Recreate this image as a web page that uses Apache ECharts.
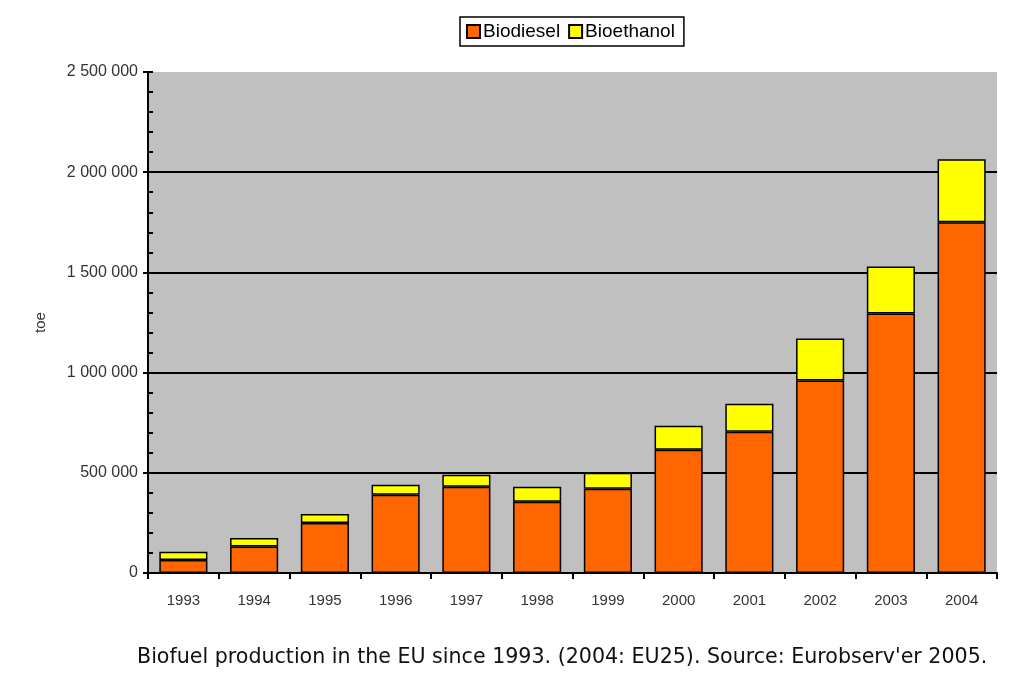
<!DOCTYPE html>
<html><head><meta charset="utf-8">
<script src="https://cdn.jsdelivr.net/npm/echarts@6/dist/echarts.min.js"></script>
<style>html,body{margin:0;padding:0;background:#fff}#c{width:1024px;height:686px}</style>
</head><body><div id="c"></div>
<script>
const years = ['1993','1994','1995','1996','1997','1998','1999','2000','2001','2002','2003','2004'];
const biodiesel = [65000,132000,250000,390000,430000,355000,420000,615000,705000,960000,1295000,1750000];
const bioethanol = [41000,43000,45000,50000,60000,75000,80000,120000,140000,210000,235000,315000];
const caption = "Biofuel production in the EU since 1993. (2004: EU25). Source: Eurobserv'er 2005.";

const chart = echarts.init(document.getElementById('c'));
const fmt = v => String(v).replace(/\B(?=(\d{3})+(?!\d))/g, ' ');
const axisFont = 'Liberation Sans, Arial, sans-serif';
chart.setOption({
  animation: false,
  textStyle: {fontFamily: axisFont},
  legend: {
    left: 460, top: 17, borderColor: '#000', borderWidth: 1.5, padding: [5, 9, 5, 6],
    itemWidth: 13, itemHeight: 13, itemGap: 8,
    textStyle: {fontSize: 19, color: '#000', padding: [0,0,0,-2]},
    data: [{name:'Biodiesel', icon:'rect'}, {name:'Bioethanol', icon:'rect'}]
  },
  grid: {left: 148, right: 27, top: 72, bottom: 113, show: true, backgroundColor: '#c0c0c0', borderWidth: 0},
  xAxis: {
    type: 'category', data: years, boundaryGap: true,
    axisLine: {lineStyle: {color: '#000', width: 2}},
    axisTick: {show: true, length: 6, interval: 0, lineStyle: {color: '#000', width: 2}},
    axisLabel: {color: '#333', fontSize: 15, margin: 20}
  },
  yAxis: [{
    type: 'value', min: 0, max: 2500000, interval: 500000,
    name: 'toe', nameLocation: 'middle', nameGap: 100, nameRotate: 90,
    nameTextStyle: {fontSize: 15, color: '#333'},
    axisLine: {show: true, lineStyle: {color: '#000', width: 2}},
    axisTick: {show: true, inside: true, length: 5, lineStyle: {color: '#000', width: 2}},
    minorTick: {show: true, splitNumber: 5, length: 5, lineStyle: {color: '#000', width: 2}},
    splitLine: {show: true, showMaxLine: false, lineStyle: {color: '#000', width: 2}},
    axisLabel: {color: '#333', fontSize: 16, margin: 10, formatter: fmt}
  }, {
    type: 'value', min: 0, max: 2500000, interval: 500000, position: 'left',
    axisLine: {show: false}, axisLabel: {show: false}, splitLine: {show: false},
    axisTick: {show: true, length: 5, lineStyle: {color: '#000', width: 2}}
  }],
  series: [
    {name: 'Biodiesel', type: 'bar', stack: 't', data: biodiesel, barWidth: '68%',
     itemStyle: {color: '#ff6600', borderColor: '#000', borderWidth: 1.5}},
    {name: 'Bioethanol', type: 'bar', stack: 't', data: bioethanol, barWidth: '68%',
     itemStyle: {color: '#ffff00', borderColor: '#000', borderWidth: 1.5}}
  ],
  graphic: [{
    type: 'text', left: 137, top: 647,
    style: {text: caption, font: '20.6px "DejaVu Sans", sans-serif', fill: '#111'}
  }]
});
</script></body></html>
